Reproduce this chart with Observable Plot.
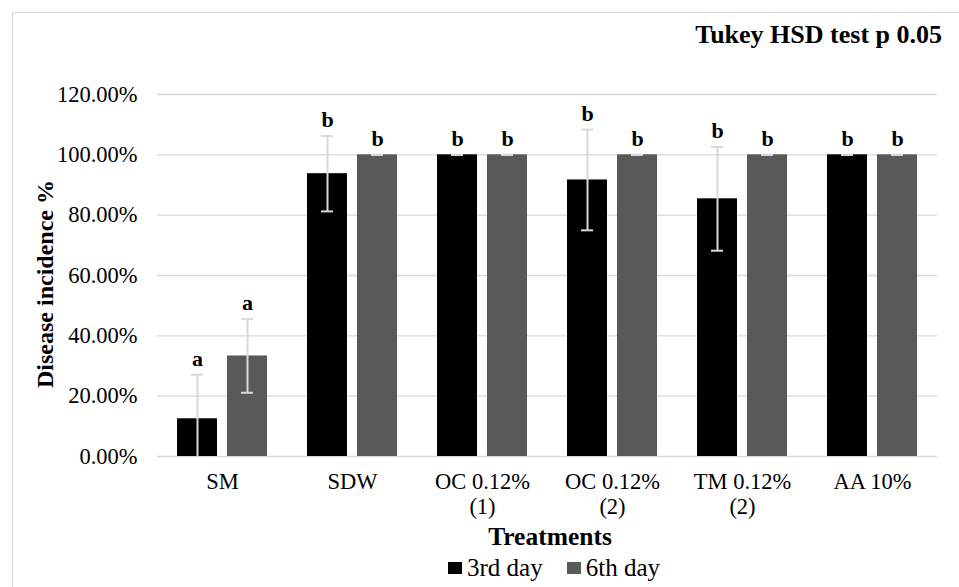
<!DOCTYPE html>
<html><head><meta charset="utf-8">
<script src="https://cdn.jsdelivr.net/npm/d3@7"></script>
<script src="https://cdn.jsdelivr.net/npm/@observablehq/plot@0.6"></script>
<style>
html,body{margin:0;padding:0;background:#fff;overflow:hidden;}
#wrap{position:relative;width:959px;height:587px;overflow:hidden;font-family:"Liberation Serif",serif;color:#000;}
#wrap svg, #wrap svg text{font-family:"Liberation Serif",serif !important;}
#frame{position:absolute;left:12px;top:12px;width:970px;height:600px;border:1px solid #d9d9d9;box-sizing:border-box;}
#chart{position:absolute;left:0;top:0;}
#title{position:absolute;right:17px;top:35px;transform:translateY(-50%);font-weight:bold;font-size:26px;white-space:nowrap;}
#ylabel{position:absolute;left:45px;top:284px;transform:translate(-50%,-50%) rotate(-90deg);font-weight:bold;font-size:24px;white-space:nowrap;}
#xlabel{position:absolute;left:550px;top:537px;transform:translate(-50%,-50%);font-weight:bold;font-size:25.5px;white-space:nowrap;}
#legend{position:absolute;left:554px;top:568px;transform:translate(-50%,-50%);display:flex;align-items:center;font-size:25px;white-space:nowrap;}
#legend .sw{display:inline-block;width:14px;height:12px;margin-right:5px;}
#legend .item{display:flex;align-items:center;margin:0 12px;}
</style>
</head><body>
<div id="wrap">
  <div id="frame"></div>
  <div id="chart"></div>
  <div id="title"></div>
  <div id="ylabel"></div>
  <div id="xlabel"></div>
  <div id="legend"></div>
</div>
<script>
const treatments = ["SM", "SDW", "OC 0.12% (1)", "OC 0.12% (2)", "TM 0.12% (2)", "AA 10%"];
const treatmentLabels = ["SM", "SDW", "OC 0.12%\n(1)", "OC 0.12%\n(2)", "TM 0.12%\n(2)", "AA 10%"];
const days = ["3rd day", "6th day"];
const dayColors = ["#000000", "#595959"];
const day3 = [0.125, 0.9375, 1, 0.9167, 0.8542, 1];
const day6 = [0.3333, 1, 1, 1, 1, 1];
const err3 = [0.146, 0.125, 0, 0.167, 0.172, 0];
const err6 = [0.122, 0, 0, 0, 0, 0];
const letters3 = ["a", "b", "b", "b", "b", "b"];
const letters6 = ["a", "b", "b", "b", "b", "b"];
const yTicks = [0, 0.2, 0.4, 0.6, 0.8, 1.0, 1.2];
const titleText = "Tukey HSD test p 0.05";
const yLabelText = "Disease incidence %";
const xLabelText = "Treatments";

const rows = treatments.flatMap((t, i) => [
  {treatment: t, day: days[0], value: day3[i], err: err3[i], letter: letters3[i]},
  {treatment: t, day: days[1], value: day6[i], err: err6[i], letter: letters6[i]}
]);
const labelRows = treatments.map((t, i) => ({treatment: t, label: treatmentLabels[i]}));
const hi = d => d.value + d.err;
const lo = d => Math.max(0, d.value - d.err);
const errColor = "#d9d9d9";

const chart = Plot.plot({
  width: 959,
  height: 545,
  marginTop: 94,
  marginLeft: 157,
  marginRight: 22,
  marginBottom: 89,
  style: {fontFamily: "'Liberation Serif', serif", fontSize: "22.5px", color: "#000", background: "transparent", overflow: "visible"},
  fx: {domain: treatments, padding: 0, axis: null, label: null},
  x: {domain: days, paddingInner: 0.2, paddingOuter: 0.4, axis: null},
  y: {domain: [0, 1.2], ticks: yTicks, tickFormat: d3.format(".2%"), tickSize: 0, tickPadding: 20, label: null},
  color: {domain: days, range: dayColors},
  marks: [
    Plot.ruleY(yTicks, {stroke: "#d9d9d9", strokeWidth: 1.3}),
    Plot.barY(rows, {fx: "treatment", x: "day", y: "value", fill: "day"}),
    Plot.ruleX(rows, {fx: "treatment", x: "day", y1: lo, y2: hi, stroke: errColor, strokeWidth: 2}),
    Plot.tickY(rows, {fx: "treatment", x: "day", y: hi, stroke: errColor, strokeWidth: 2, insetLeft: 14, insetRight: 14}),
    Plot.tickY(rows.filter(d => d.value - d.err >= 0), {fx: "treatment", x: "day", y: d => d.value - d.err, stroke: errColor, strokeWidth: 2, insetLeft: 14, insetRight: 14}),
    Plot.text(rows, {fx: "treatment", x: "day", y: hi, text: "letter", dy: -16, fontWeight: "bold", fontSize: 22}),
    Plot.text(labelRows, {fx: "treatment", text: "label", frameAnchor: "bottom", lineAnchor: "top", dy: 15, lineHeight: 1.1, fontSize: 22.5})
  ]
});
document.getElementById("chart").appendChild(chart);
document.getElementById("title").textContent = titleText;
document.getElementById("ylabel").textContent = yLabelText;
document.getElementById("xlabel").textContent = xLabelText;
const legend = document.getElementById("legend");
days.forEach((d, i) => {
  const item = document.createElement("span");
  item.className = "item";
  const sw = document.createElement("span");
  sw.className = "sw";
  sw.style.background = dayColors[i];
  item.appendChild(sw);
  item.appendChild(document.createTextNode(d));
  legend.appendChild(item);
});
</script>
</body></html>
